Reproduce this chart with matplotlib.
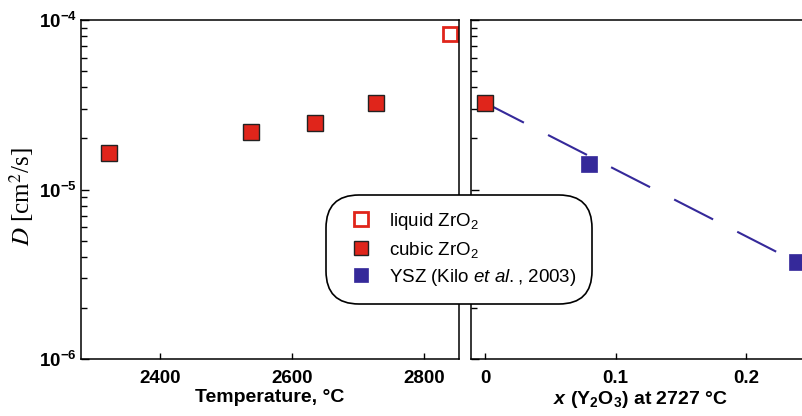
import matplotlib
matplotlib.use("Agg")
import matplotlib.pyplot as plt
from matplotlib.lines import Line2D
from matplotlib.ticker import LogLocator, FixedFormatter, FixedLocator, NullFormatter

plt.rcParams['font.family'] = ['Liberation Sans', 'DejaVu Sans']
plt.rcParams['mathtext.fontset'] = 'custom'
plt.rcParams['mathtext.rm'] = 'Liberation Sans'
plt.rcParams['mathtext.it'] = 'Liberation Sans:italic'
plt.rcParams['mathtext.bf'] = 'Liberation Sans:bold'
plt.rcParams['mathtext.bfit'] = 'Liberation Sans:italic:bold'

# data
cubic_T = [2322, 2538, 2634, 2727]
cubic_D = [1.65e-5, 2.19e-5, 2.48e-5, 3.25e-5]
liquid_T = [2840]
liquid_D = [8.3e-5]
ysz_x = [0.08, 0.239]
ysz_D = [1.42e-5, 3.72e-6]
cubic_x0 = [0.0]
cubic_D0 = [3.25e-5]
trend_x = [0.0, 0.239]
trend_D = [3.25e-5, 3.72e-6]

RED = '#e0251b'
BLUE = '#35299a'

fig = plt.figure(figsize=(8.02, 4.16), dpi=100)
bottom, top = 1 - 359 / 416, 1 - 20 / 416
ax1 = fig.add_axes([81 / 802, bottom, (459 - 81) / 802, top - bottom])
ax2 = fig.add_axes([471 / 802, bottom, (810 - 471) / 802, top - bottom])

for ax in (ax1, ax2):
    ax.set_yscale('log')
    ax.set_ylim(1e-6, 1e-4)
    ax.yaxis.set_major_locator(FixedLocator([1e-6, 1e-5, 1e-4]))
    ax.yaxis.set_minor_locator(LogLocator(base=10, subs=range(2, 10)))
    ax.yaxis.set_minor_formatter(NullFormatter())
    ax.tick_params(which='both', direction='in', width=1.0, top=False, right=False)
    ax.tick_params(which='major', length=6)
    ax.tick_params(which='minor', length=4)
    ax.tick_params(axis='x', which='major', length=4, labelsize=13.5, pad=8)
    for s in ax.spines.values():
        s.set_linewidth(1.1)

ax1.yaxis.set_major_formatter(FixedFormatter([r'$\mathbf{10^{-6}}$', r'$\mathbf{10^{-5}}$', r'$\mathbf{10^{-4}}$']))
ax1.tick_params(axis='y', labelsize=13.5, pad=3)
ax2.tick_params(axis='y', labelleft=False)
ax2.spines['right'].set_visible(False)

# left panel: temperature
ax1.plot(cubic_T, cubic_D, 's', ms=11, mfc=RED, mec='#222222', mew=1.0, ls='none')
ax1.plot(liquid_T, liquid_D, 's', ms=10, mfc='white', mec=RED, mew=2.0, ls='none')
ax1.set_xlim(2280, 2853)
ax1.set_xticks([2400, 2600, 2800])
ax1.set_xticklabels(['2400', '2600', '2800'], fontweight='bold')
ax1.set_xlabel('Temperature, °C', fontsize=14, fontweight='bold', labelpad=1)
ax1.set_ylabel(r'$D$ [cm$^2$/s]', fontsize=18, family='Liberation Serif',
               math_fontfamily='stix')
ax1.yaxis.set_label_coords(-0.118, 0.478)

# right panel: yttria content
ax2.plot(trend_x, trend_D, color=BLUE, lw=1.5, dashes=(21, 13))
ax2.plot(cubic_x0, cubic_D0, 's', ms=11, mfc=RED, mec='#222222', mew=1.0, ls='none')
ax2.plot(ysz_x, ysz_D, 's', ms=11, mfc=BLUE, mec=BLUE, mew=0.5, ls='none')
ax2.set_xlim(-0.0107, 0.249)
ax2.set_xticks([0, 0.1, 0.2])
ax2.set_xticklabels(['0', '0.1', '0.2'], fontweight='bold')
ax2.set_xlabel(r'$\mathbfit{x}$ (Y$_{\mathbf{2}}$O$_{\mathbf{3}}$) at 2727 °C',
               fontsize=14, fontweight='bold', labelpad=1)

handles = [
    Line2D([], [], marker='s', ls='none', ms=10, mfc='white', mec=RED, mew=2.0),
    Line2D([], [], marker='s', ls='none', ms=10, mfc=RED, mec='#222222', mew=1.0),
    Line2D([], [], marker='s', ls='none', ms=10, mfc=BLUE, mec=BLUE, mew=0.5),
]
labels = ['liquid ZrO$_2$', 'cubic ZrO$_2$', r'YSZ (Kilo $\mathit{et\ al.}$, 2003)']
leg = fig.legend(handles, labels, loc='center', bbox_to_anchor=(459 / 802, 1 - 249.5 / 416),
                 fontsize=13.5, frameon=True, framealpha=1, edgecolor='black',
                 handletextpad=0.5, labelspacing=0.4, borderpad=0.85, borderaxespad=0)
frame = leg.get_frame()
frame.set_linewidth(1.2)
frame.set_boxstyle('round', pad=0, rounding_size=1.75)

fig.savefig('out.png', dpi=100)
